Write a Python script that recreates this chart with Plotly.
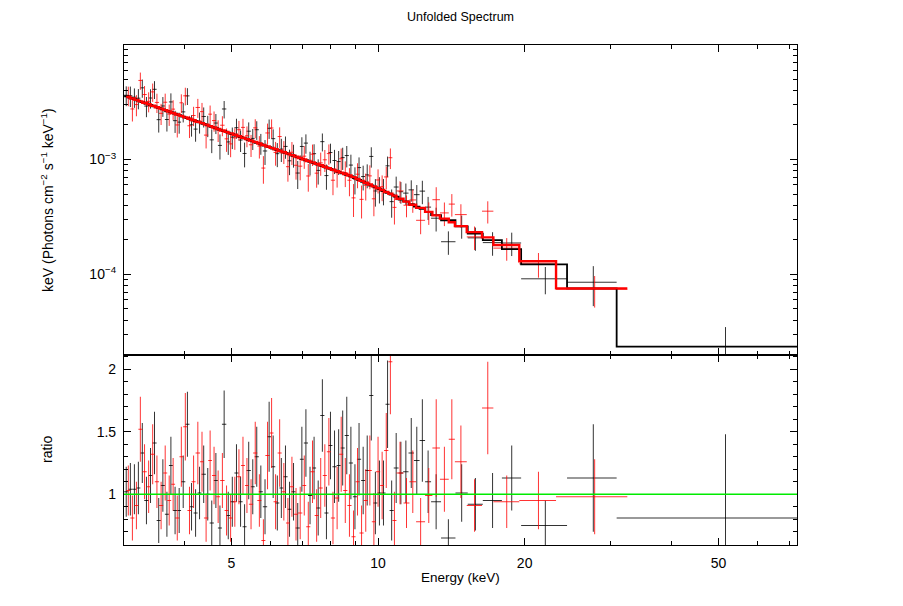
import plotly.graph_objects as go

# ---- FPMA (black) ----
black_edges = [3.01, 3.07, 3.13, 3.19, 3.25, 3.31, 3.38, 3.44, 3.51, 3.58,
               3.65, 3.72, 3.79, 3.87, 3.94, 4.02, 4.10, 4.18, 4.26, 4.34,
               4.43, 4.51, 4.60, 4.69, 4.78, 4.88, 4.97, 5.07, 5.17, 5.27,
               5.37, 5.48, 5.58, 5.69, 5.80, 5.92, 6.03, 6.15, 6.27, 6.39,
               6.52, 6.64, 6.77, 6.91, 7.04, 7.18, 7.32, 7.46, 7.61, 7.76,
               7.91, 8.06, 8.22, 8.38, 8.54, 8.71, 8.88, 9.05, 9.23, 9.41,
               9.59, 9.78, 9.97, 10.16, 10.36, 10.56, 10.77, 11.02,
               11.26, 11.55, 11.85, 12.17, 12.49, 12.85, 13.47, 14.42, 15.28,
               16.41, 17.96, 19.67, 24.44, 30.9, 72.5]
black_ratio = [1.02, 1.04, 1.04, 1.05, 1.33, 0.95, 1.15, 1.41, 0.79, 1.07, 0.84, 1.23, 0.87, 0.87, 1.10, 1.56, 0.90,
               0.85, 1.01, 1.16, 1.00, 0.77, 1.11, 0.73, 1.56, 0.83, 0.94, 1.17, 0.94, 0.74, 1.19, 1.06, 1.30, 1.02,
               0.90, 1.46, 1.22, 0.93, 1.05, 1.14, 0.88, 1.02, 0.73, 1.28, 1.41, 0.99, 1.21, 0.89, 1.63, 0.85, 1.39,
               1.22, 1.23, 1.37, 1.47, 1.25, 0.98, 1.28, 1.11, 1.19, 1.79, 0.93, 1.01, 1.01, 1.72, 0.87, 1.21,
               1.17, 1.18, 1.33, 1.27, 1.43, 1.10, 0.94, 0.65, 1.01, 0.92, 0.95, 1.13, 0.75, 1.13, 0.81]
black_ratio_err = [0.20, 0.21, 0.20, 0.21, 0.24, 0.19, 0.22, 0.25, 0.18, 0.21, 0.18, 0.23, 0.19, 0.18, 0.21, 0.26, 0.19,
                   0.19, 0.21, 0.23, 0.21, 0.18, 0.22, 0.18, 0.27, 0.19, 0.20, 0.23, 0.20, 0.18, 0.23, 0.22, 0.24, 0.21,
                   0.22, 0.28, 0.25, 0.22, 0.24, 0.25, 0.22, 0.23, 0.20, 0.26, 0.27, 0.23, 0.25, 0.22, 0.29, 0.21, 0.27,
                   0.29, 0.29, 0.30, 0.31, 0.29, 0.26, 0.29, 0.27, 0.28, 0.36, 0.25, 0.26, 0.26, 0.35, 0.24, 0.28,
                   0.25, 0.25, 0.28, 0.27, 0.33, 0.25, 0.22, 0.15, 0.23, 0.21, 0.22, 0.26, 0.20, 0.43, 0.67]
# model per bin, units of 1e-3 keV (Photons cm^-2 s^-1 keV^-1)
black_model = [3.551, 3.449, 3.350, 3.254, 3.161, 3.070, 2.980, 2.895, 2.812, 2.731,
               2.653, 2.577, 2.503, 2.431, 2.361, 2.293, 2.227, 2.163, 2.101, 2.041,
               1.982, 1.925, 1.870, 1.816, 1.764, 1.713, 1.664, 1.616, 1.570, 1.525,
               1.481, 1.439, 1.397, 1.357, 1.318, 1.280, 1.244, 1.208, 1.173, 1.140,
               1.107, 1.075, 1.044, 1.014, 0.985, 0.957, 0.929, 0.903, 0.877, 0.852,
               0.827, 0.803, 0.780, 0.758, 0.736, 0.715, 0.689, 0.664, 0.640, 0.617,
               0.594, 0.572, 0.552, 0.532, 0.512, 0.494, 0.476,
               0.448, 0.432, 0.409, 0.389, 0.371, 0.350, 0.328, 0.296, 0.262, 0.226,
               0.199, 0.166, 0.122, 0.0756, 0.0235]

# ---- FPMB (red) ----
red_edges = [3.04, 3.10, 3.16, 3.22, 3.28, 3.35, 3.41, 3.48, 3.55, 3.62,
             3.69, 3.76, 3.83, 3.91, 3.98, 4.06, 4.14, 4.22, 4.31, 4.39,
             4.48, 4.56, 4.65, 4.74, 4.84, 4.93, 5.03, 5.13, 5.23, 5.33,
             5.43, 5.54, 5.65, 5.76, 5.87, 5.99, 6.10, 6.22, 6.34, 6.47,
             6.59, 6.72, 6.85, 6.99, 7.12, 7.26, 7.41, 7.55, 7.70, 7.85,
             8.00, 8.16, 8.32, 8.48, 8.65, 8.82, 8.99, 9.16, 9.34, 9.53,
             9.71, 9.90, 10.10, 10.29, 10.50, 10.70, 10.91,
             11.28, 11.60, 11.97, 12.49, 12.93, 13.40, 13.97, 14.38, 15.21,
             16.35, 17.25, 19.5, 23.2, 32.5]
red_ratio = [1.03, 0.81, 0.91, 1.52, 1.18, 1.06, 1.32, 1.10, 0.91, 1.17, 0.95, 1.08, 0.81, 1.30, 1.54, 0.87, 1.10,
             1.33, 1.26, 0.81, 1.27, 1.15, 0.98, 1.11, 0.87, 0.81, 0.94, 1.14, 1.23, 1.07, 0.92, 1.33, 0.95, 0.63,
             1.31, 1.49, 0.94, 1.33, 1.02, 0.77, 1.06, 0.84, 0.85, 1.07, 0.74, 1.18, 0.83, 1.05, 1.15, 1.34, 0.81,
             0.97, 1.32, 1.03, 0.91, 0.66, 1.10, 0.69, 0.95, 1.19, 0.78, 1.18, 1.07, 1.35, 2.06, 0.79,
             1.17, 0.93, 1.10, 0.78, 0.99, 1.37, 1.12, 1.44, 1.26, 0.91, 1.69, 0.94, 0.95, 0.98]
red_ratio_err = [0.20, 0.18, 0.19, 0.26, 0.22, 0.21, 0.24, 0.21, 0.19, 0.22, 0.20, 0.21, 0.18, 0.24, 0.27, 0.19, 0.21,
                 0.25, 0.24, 0.19, 0.24, 0.23, 0.21, 0.22, 0.20, 0.19, 0.20, 0.22, 0.23, 0.22, 0.20, 0.25, 0.21, 0.17,
                 0.27, 0.28, 0.22, 0.27, 0.23, 0.20, 0.24, 0.21, 0.21, 0.24, 0.20, 0.25, 0.21, 0.24, 0.25, 0.27, 0.21,
                 0.25, 0.30, 0.26, 0.25, 0.21, 0.27, 0.22, 0.25, 0.28, 0.23, 0.28, 0.27, 0.30, 0.42, 0.23,
                 0.25, 0.20, 0.25, 0.19, 0.22, 0.39, 0.26, 0.32, 0.29, 0.21, 0.37, 0.21, 0.23, 0.30]
red_model = [3.500, 3.399, 3.302, 3.207, 3.115, 3.026, 2.937, 2.853, 2.772, 2.692,
             2.615, 2.540, 2.467, 2.396, 2.327, 2.260, 2.195, 2.132, 2.071, 2.012,
             1.953, 1.897, 1.843, 1.790, 1.739, 1.688, 1.640, 1.593, 1.547, 1.503,
             1.460, 1.418, 1.377, 1.337, 1.299, 1.262, 1.226, 1.191, 1.156, 1.124,
             1.091, 1.060, 1.029, 0.999, 0.971, 0.943, 0.916, 0.890, 0.864, 0.840,
             0.815, 0.791, 0.769, 0.747, 0.725, 0.702, 0.677, 0.652, 0.628, 0.605,
             0.583, 0.562, 0.542, 0.522, 0.503, 0.485,
             0.455, 0.430, 0.404, 0.379, 0.350, 0.326, 0.306, 0.284, 0.263, 0.233,
             0.210, 0.180, 0.130, 0.0756]

energy_ticks = [5, 10, 20, 50]
energy_minor = [3, 4, 6, 7, 8, 9, 30, 40, 60, 70]
flux_ticks = [1e-4, 1e-3]
flux_labels = ["10<sup>\u22124</sup>", "10<sup>\u22123</sup>"]
flux_minor = [2e-5, 3e-5, 4e-5, 5e-5, 6e-5, 7e-5, 8e-5, 9e-5,
              2e-4, 3e-4, 4e-4, 5e-4, 6e-4, 7e-4, 8e-4, 9e-4,
              2e-3, 3e-3, 4e-3, 5e-3, 6e-3, 7e-3, 8e-3, 9e-3]
ratio_ticks = [1, 1.5, 2]
ratio_minor = [0.6, 0.7, 0.8, 0.9, 1.1, 1.2, 1.3, 1.4, 1.6, 1.7, 1.8, 1.9, 2.1]

for e, r, s, m in [(black_edges, black_ratio, black_ratio_err, black_model),
                   (red_edges, red_ratio, red_ratio_err, red_model)]:
    assert len(e) - 1 == len(r) == len(s) == len(m), (len(e), len(r), len(s), len(m))


def bins(edges):
    lo, hi = edges[:-1], edges[1:]
    centre = [(a + b) / 2 for a, b in zip(lo, hi)]
    half = [(b - a) / 2 for a, b in zip(lo, hi)]
    return centre, half


def steps(edges, model):
    xs, ys = [], []
    for a, b, m in zip(edges[:-1], edges[1:], model):
        xs += [a, b]
        ys += [m * 1e-3, m * 1e-3]
    return xs, ys


FONT = "Liberation Sans, Arial, Helvetica, sans-serif"
fig = go.Figure()

series = [("FPMA", black_edges, black_ratio, black_ratio_err, black_model, "rgba(0,0,0,0.8)", "black", 1.8),
          ("FPMB", red_edges, red_ratio, red_ratio_err, red_model, "rgba(255,0,0,0.8)", "red", 2.4)]

# data points
for name, edges, ratio, err, model, col, lcol, lw in series:
    centre, half = bins(edges)
    flux = [r * m * 1e-3 for r, m in zip(ratio, model)]
    flux_err = [s * m * 1e-3 for s, m in zip(err, model)]
    fig.add_trace(go.Scatter(
        x=centre, y=flux, mode="markers", xaxis="x2", yaxis="y2",
        marker=dict(size=0.1, color=col), name=name, showlegend=False,
        error_x=dict(type="data", array=half, thickness=1, width=0, color=col),
        error_y=dict(type="data", array=flux_err, thickness=1, width=0, color=col)))
    fig.add_trace(go.Scatter(
        x=centre, y=ratio, mode="markers", xaxis="x", yaxis="y",
        marker=dict(size=0.1, color=col), showlegend=False,
        error_x=dict(type="data", array=half, thickness=1, width=0, color=col),
        error_y=dict(type="data", array=err, thickness=1, width=0, color=col)))

# model histograms
for name, edges, ratio, err, model, col, lcol, lw in series:
    sx, sy = steps(edges, model)
    fig.add_trace(go.Scatter(x=sx, y=sy, mode="lines", xaxis="x2", yaxis="y2",
                             line=dict(color=lcol, width=lw), showlegend=False))

axis_common = dict(showline=True, linecolor="black", linewidth=1.2, mirror="allticks",
                   ticks="inside", ticklen=7, tickwidth=1, tickcolor="black",
                   showgrid=False, zeroline=False,
                   tickfont=dict(family=FONT, size=14, color="black"))
minor_common = dict(ticks="inside", ticklen=4, tickwidth=1, tickcolor="black", showgrid=False)

# the page body adds an 8 px offset, so the margins are trimmed by 8 px
fig.update_layout(
    width=903, height=606,
    margin=dict(l=116, r=114, t=37, b=69),
    paper_bgcolor="white", plot_bgcolor="white",
    font=dict(family=FONT, size=13, color="black"),
    showlegend=False,
    xaxis=dict(domain=[0, 1], anchor="y", type="log", range=[0.4783, 1.8603],
               tickvals=energy_ticks, ticktext=[str(v) for v in energy_ticks],
               ticklabelstandoff=5,
               minor=dict(tickvals=energy_minor, **minor_common), **axis_common),
    yaxis=dict(domain=[0, 0.38], anchor="x", range=[0.594, 2.114],
               tickvals=ratio_ticks, ticktext=["1", "1.5", "2"], ticklabelstandoff=4,
               minor=dict(tickvals=ratio_minor, **minor_common), **axis_common),
    xaxis2=dict(domain=[0, 1], anchor="y2", type="log", range=[0.4783, 1.8603], matches="x",
                tickvals=energy_ticks, showticklabels=False,
                minor=dict(tickvals=energy_minor, **minor_common), **axis_common),
    yaxis2=dict(domain=[0.38, 1], anchor="x2", type="log", range=[-4.7017, -2.0035],
                tickvals=flux_ticks, ticktext=flux_labels, ticklabelstandoff=4,
                minor=dict(tickvals=flux_minor, **minor_common), **axis_common),
    shapes=[dict(type="line", xref="x domain", x0=0, x1=1, yref="y", y0=1, y1=1,
                 line=dict(color="rgb(0,235,0)", width=1.5), layer="above")],
    annotations=[
        dict(text="Unfolded Spectrum", xref="paper", yref="paper", x=0.5, y=1.056,
             showarrow=False, xanchor="center", yanchor="middle", font=dict(size=12.5)),
        dict(text="Energy (keV)", xref="paper", yref="paper", x=0.5, y=-0.064,
             showarrow=False, xanchor="center", yanchor="middle", font=dict(size=13.5)),
        dict(text="keV (Photons cm<sup>\u22122</sup> s<sup>\u22121</sup> keV<sup>\u22121</sup>)",
             xref="paper", yref="paper", x=-0.1144, y=0.69, textangle=-90,
             showarrow=False, xanchor="center", yanchor="middle", font=dict(size=14)),
        dict(text="ratio", xref="paper", yref="paper", x=-0.1144, y=0.19, textangle=-90,
             showarrow=False, xanchor="center", yanchor="middle", font=dict(size=14)),
    ],
)

fig.write_html("out.html")
